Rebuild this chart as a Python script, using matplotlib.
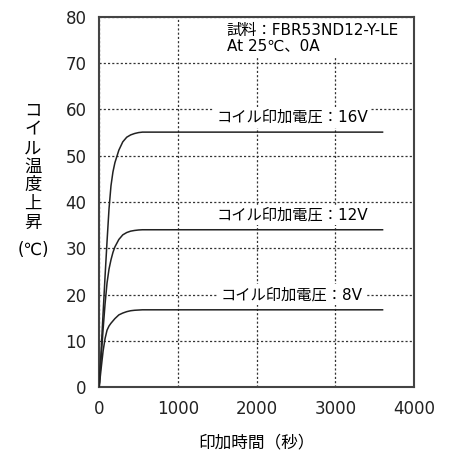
import matplotlib.pyplot as plt

plt.rcParams['font.family'] = ['DejaVu Sans', 'Noto Sans CJK JP']
jp = ['Noto Sans CJK JP', 'DejaVu Sans']
mix = ['DejaVu Sans', 'Noto Sans CJK JP']

# time (s) and coil temperature rise (degC)
t = [0, 25, 50, 75, 100, 125, 150, 175, 200, 250, 300, 350, 400, 450, 500, 550, 600, 3600]
v16 = [0, 8.0, 16.0, 24.0, 31.5, 38.5, 43.5, 46.5, 48.5, 51.2, 53.0, 54.0, 54.5, 54.8,
       55.0, 55.1, 55.1, 55.1]
v12 = [0, 6.3, 12.5, 18.0, 22.5, 25.5, 27.5, 29.1, 30.3, 31.9, 32.9, 33.4, 33.7, 33.85,
       33.95, 34.0, 34.0, 34.0]
v8 = [0, 4.0, 7.8, 10.5, 12.3, 13.2, 13.8, 14.3, 14.8, 15.6, 16.0, 16.3, 16.5, 16.6,
      16.65, 16.7, 16.7, 16.7]

labels = ["コイル印加電圧：16V", "コイル印加電圧：12V", "コイル印加電圧：8V"]
label_y = [58.3, 37.2, 20.0]

xticks = [0, 1000, 2000, 3000, 4000]
yticks = [0, 10, 20, 30, 40, 50, 60, 70, 80]

fig = plt.figure(figsize=(4.57, 4.57), dpi=100)
ax = fig.add_axes([0.217, 0.153, 0.689, 0.810])

for v in [v16, v12, v8]:
    ax.plot(t, v, color="#222222", linewidth=1.1, zorder=3)

for lab, y in zip(labels, label_y):
    ax.text(2450, y, lab, family=mix, fontsize=11, ha="center", va="center",
            bbox=dict(facecolor="white", edgecolor="none", pad=2), zorder=4)

ax.text(1620, 75.5, "試料：FBR53ND12-Y-LE\nAt 25℃、0A", family=mix, fontsize=11,
        ha="left", va="center", linespacing=1.0,
        bbox=dict(facecolor="white", edgecolor="none", pad=3), zorder=4)

ax.set_xlim(0, 4000)
ax.set_ylim(0, 80)
ax.set_xticks(xticks)
ax.set_yticks(yticks)
ax.tick_params(length=0, labelsize=12, pad=9, colors="#222222")
ax.grid(True, linestyle=(0, (1.7, 1.7)), color="#333333", linewidth=0.9)
for s in ax.spines.values():
    s.set_color("#444444")
    s.set_linewidth(1.5)

# vertical y label, one character per line
ychars = "コイル温度上昇"
for i, ch in enumerate(ychars):
    fig.text(33 / 457, 1 - (111 + i * 18.6) / 457, ch, family=jp, fontsize=12.5,
             ha="center", va="center")
fig.text(33 / 457, 1 - 250 / 457, "(℃)", family=mix, fontsize=12, ha="center", va="center")

fig.text(256 / 457, 1 - 443 / 457, "印加時間（秒）", family=jp, fontsize=12,
         ha="center", va="center")

fig.savefig("out.png", dpi=100)
